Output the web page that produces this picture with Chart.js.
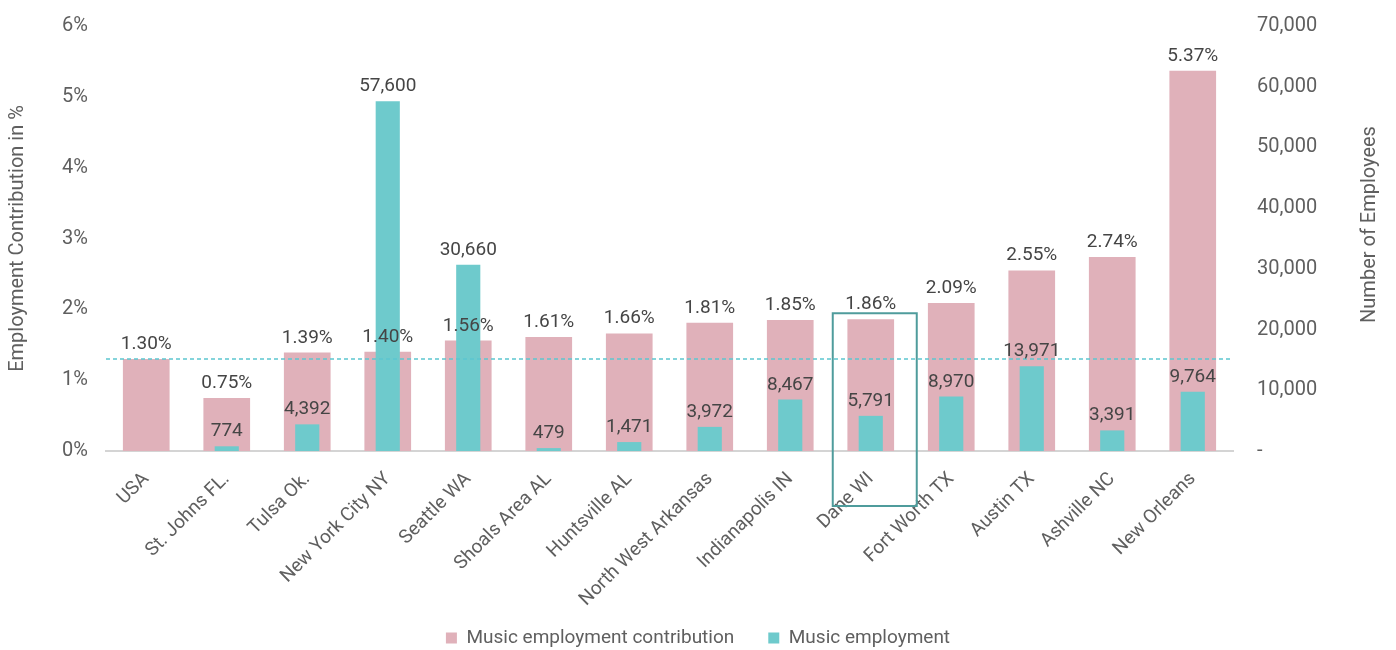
<!DOCTYPE html>
<html>
<head>
<meta charset="utf-8">
<script src="https://cdn.jsdelivr.net/npm/chart.js@4"></script>
<style>
  html, body { margin: 0; padding: 0; background: #fff; }
  #wrap { width: 1396px; height: 650px; }
</style>
</head>
<body>
<div id="wrap"><canvas id="musicChart"></canvas></div>
<script>
// Chart data
const categories = ['USA', 'St. Johns FL.', 'Tulsa Ok.', 'New York City NY', 'Seattle WA', 'Shoals Area AL',
    'Huntsville AL', 'North West Arkansas', 'Indianapolis IN', 'Dane WI', 'Fort Worth TX', 'Austin TX',
    'Ashville NC', 'New Orleans'];
const contributionPct = [1.30, 0.75, 1.39, 1.40, 1.56, 1.61, 1.66, 1.81, 1.85, 1.86, 2.09, 2.55, 2.74, 5.37];
const employees = [null, 774, 4392, 57600, 30660, 479, 1471, 3972, 8467, 5791, 8970, 13971, 3391, 9764];
const pctTicks = [0, 1, 2, 3, 4, 5, 6];
const empTicks = [0, 10000, 20000, 30000, 40000, 50000, 60000, 70000];
const highlightCategory = 'Dane WI';
const rightTitle = 'Number of Employees';

const textColor = '#5f5f5f';
const labelColor = '#454545';
const fontFamily = 'Roboto, sans-serif';
const legendFont = 19;
const legendPad = 34;

function fmtNum(v) {
    return v.toLocaleString('en-US');
}

// Bar value labels, benchmark line, highlight box, right axis title
const overlayPlugin = {
    id: 'overlay',
    afterDatasetsDraw(chart) {
        const ctx = chart.ctx;
        const area = chart.chartArea;
        const x = chart.scales.x;
        const y = chart.scales.y;

        // dashed benchmark line at USA level
        const by = y.getPixelForValue(contributionPct[0]);
        ctx.save();
        ctx.strokeStyle = '#5cc6cf';
        ctx.lineWidth = 1.5;
        ctx.setLineDash([4, 3]);
        ctx.beginPath();
        ctx.moveTo(area.left, by);
        ctx.lineTo(area.right, by);
        ctx.stroke();
        ctx.restore();

        // value labels
        ctx.save();
        ctx.font = '19px ' + fontFamily;
        ctx.fillStyle = labelColor;
        ctx.textAlign = 'center';
        ctx.textBaseline = 'alphabetic';
        chart.data.datasets.forEach((ds, di) => {
            const meta = chart.getDatasetMeta(di);
            meta.data.forEach((bar, i) => {
                const v = ds.data[i];
                if (v === null || v === undefined) return;
                const txt = ds.yAxisID === 'y' ? v.toFixed(2) + '%' : fmtNum(v);
                ctx.fillText(txt, bar.x, bar.y - 10);
            });
        });
        ctx.restore();

        // highlight box around one category
        const idx = categories.indexOf(highlightCategory);
        if (idx >= 0) {
            const cx = x.getPixelForValue(idx);
            const top = y.getPixelForValue(contributionPct[idx]) - 6;
            const bottom = area.bottom + 55;
            ctx.save();
            ctx.strokeStyle = '#4f9c9c';
            ctx.lineWidth = 2;
            ctx.strokeRect(cx - 38, top, 84, bottom - top);
            ctx.restore();
        }

        // right axis title, reading bottom to top like the left one
        ctx.save();
        ctx.translate(1370, (area.top + area.bottom) / 2 - 14);
        ctx.rotate(-Math.PI / 2);
        ctx.font = '20px ' + fontFamily;
        ctx.fillStyle = textColor;
        ctx.textAlign = 'center';
        ctx.textBaseline = 'middle';
        ctx.fillText(rightTitle, 0, 0);
        ctx.restore();
    }
};

// place the legend row near the bottom edge and let long x labels run past the axis box
const layoutTweak = {
    id: 'layoutTweak',
    afterLayout(chart) {
        const lg = chart.legend;
        if (lg) {
            const h = lg.bottom - lg.top;
            lg.top = 638 - legendPad - legendFont / 2;
            lg.bottom = lg.top + h;
        }
        chart.scales.x.bottom = chart.height;
    }
};

document.addEventListener('DOMContentLoaded', function() {
    const ctx = document.getElementById('musicChart');
    new Chart(ctx, {
        type: 'bar',
        data: {
            labels: categories,
            datasets: [{
                label: 'Music employment',
                data: employees,
                yAxisID: 'y1',
                backgroundColor: '#6ecacc',
                barPercentage: 0.30,
                categoryPercentage: 1,
                grouped: false
            }, {
                label: 'Music employment contribution',
                data: contributionPct,
                yAxisID: 'y',
                backgroundColor: '#e0b1ba',
                barPercentage: 0.58,
                categoryPercentage: 1,
                grouped: false
            }]
        },
        options: {
            responsive: true,
            maintainAspectRatio: false,
            animation: false,
            layout: { padding: { top: 26, bottom: 0 } },
            plugins: {
                tooltip: { enabled: false },
                legend: {
                    position: 'bottom',
                    reverse: true,
                    labels: {
                        boxWidth: 11,
                        boxHeight: 11,
                        padding: legendPad,
                        color: textColor,
                        font: { family: fontFamily, size: legendFont }
                    }
                }
            },
            scales: {
                x: {
                    afterFit: s => { s.height = 136; },
                    grid: { display: false },
                    border: { color: '#d4d4d4', width: 2 },
                    ticks: {
                        color: textColor,
                        font: { family: fontFamily, size: 19 },
                        minRotation: 45,
                        maxRotation: 45,
                        autoSkip: false,
                        padding: 9
                    }
                },
                y: {
                    position: 'left',
                    min: 0,
                    max: 6,
                    afterFit: s => { s.width = 106; s.paddingTop = 0; s.paddingBottom = 0; },
                    afterBuildTicks: s => { s.ticks = pctTicks.map(v => ({ value: v })); },
                    grid: { display: false },
                    border: { display: false },
                    ticks: {
                        color: textColor,
                        font: { family: fontFamily, size: 20 },
                        padding: 10,
                        callback: v => v + '%'
                    },
                    title: {
                        display: true,
                        text: 'Employment Contribution in %',
                        color: textColor,
                        font: { family: fontFamily, size: 20 },
                        padding: { top: 6, bottom: 0 }
                    }
                },
                y1: {
                    position: 'right',
                    min: 0,
                    max: 70000,
                    afterFit: s => { s.width = 163; s.paddingTop = 0; s.paddingBottom = 0; },
                    afterBuildTicks: s => { s.ticks = empTicks.map(v => ({ value: v })); },
                    grid: { display: false },
                    border: { display: false },
                    ticks: {
                        color: textColor,
                        font: { family: fontFamily, size: 20 },
                        padding: 16,
                        callback: v => v === 0 ? '-' : fmtNum(v)
                    }
                }
            }
        },
        plugins: [overlayPlugin, layoutTweak]
    });
});
</script>
</body>
</html>
